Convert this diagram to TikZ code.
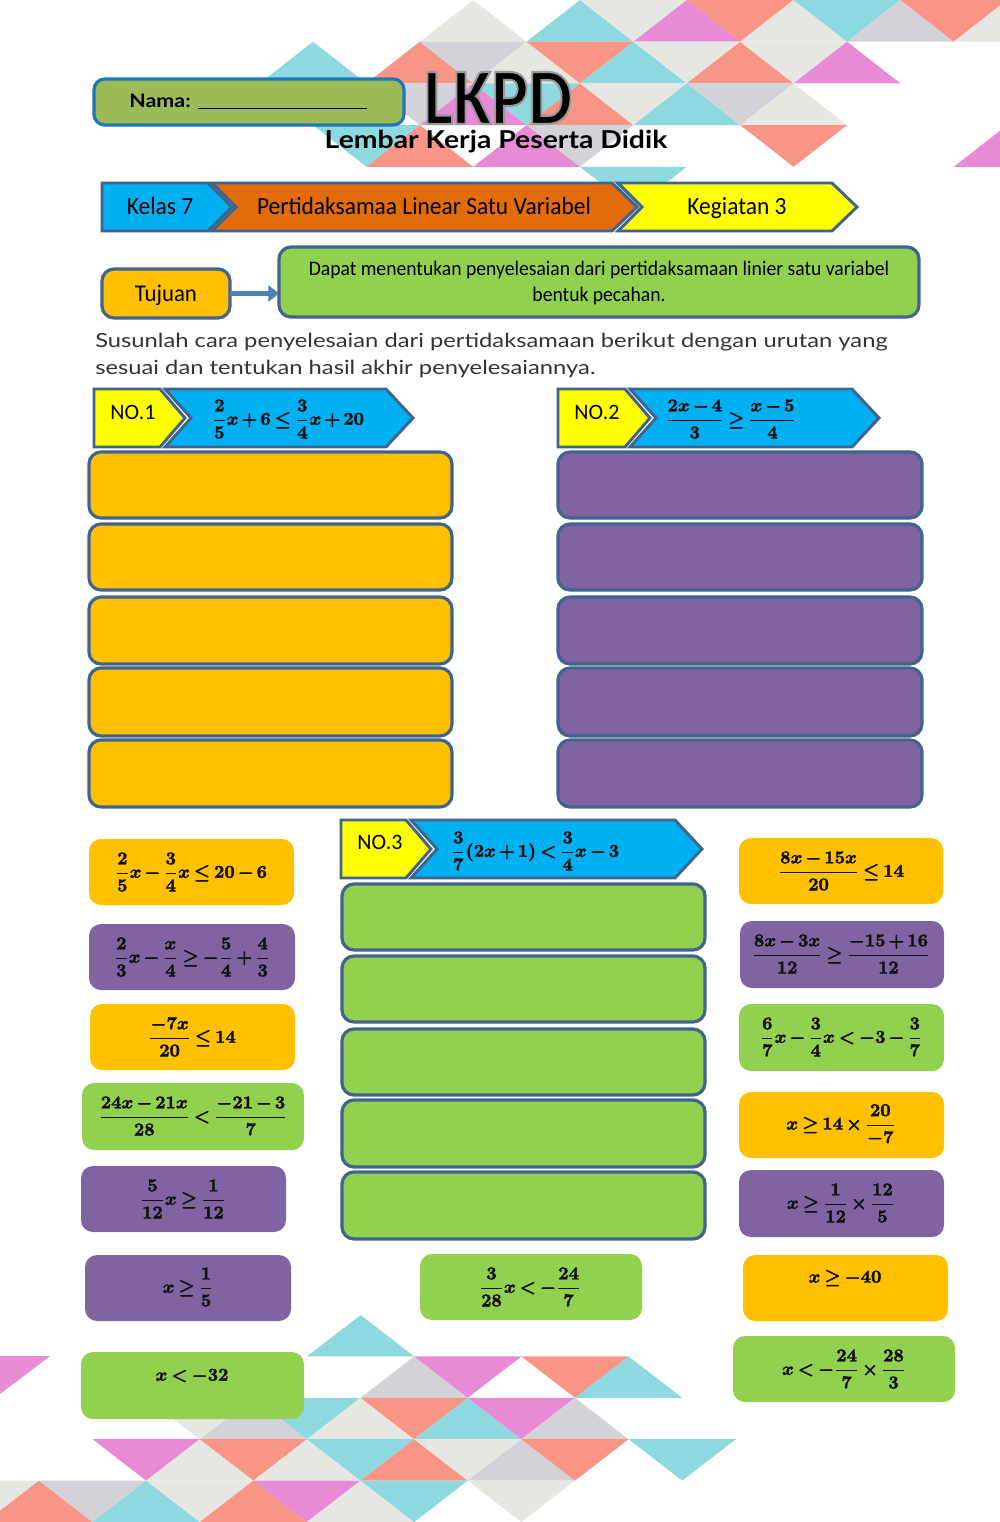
\documentclass[tikz,border=0pt]{standalone}
\usepackage{amsmath}
\usepackage{graphicx}
\usepackage[no-math]{fontspec}
\setmainfont{Carlito}
\newfontfamily\condfont[FakeStretch=0.95]{Carlito}
\newfontfamily\widefont[FakeStretch=1.22]{Lato}
\newfontfamily\headfont[FakeStretch=1.15]{Lato}
\usetikzlibrary{arrows.meta}
\definecolor{cyT}{HTML}{8ED8DF}
\definecolor{saT}{HTML}{F99586}
\definecolor{piT}{HTML}{E88AD6}
\definecolor{liT}{HTML}{E6E7E2}
\definecolor{grT}{HTML}{D2D2D8}
\definecolor{edgeB}{HTML}{41648F}
\definecolor{orangeF}{HTML}{FFC000}
\definecolor{purpleF}{HTML}{8064A2}
\definecolor{greenF}{HTML}{92D050}
\definecolor{blueF}{HTML}{00B0F0}
\definecolor{yellowF}{HTML}{FFFF00}
\definecolor{burntF}{HTML}{E36C0A}
\definecolor{olive}{HTML}{9BBB59}
\definecolor{namaB}{HTML}{1F78B4}
\definecolor{arrowB}{HTML}{4F81BD}
\definecolor{inkT}{HTML}{111111}
\tikzset{
  slot/.style={draw=edgeB,line width=2.4pt,rounded corners=9pt,inner sep=0pt,outer sep=0pt},
  card/.style={rounded corners=9pt,inner sep=0pt,outer sep=0pt},
  ban/.style={draw=edgeB,line width=2.2pt,line join=miter},
  eqn/.style={inner sep=0pt,text=inkT},
  lbl/.style={inner sep=0pt,text=black,align=center}
}
\newcommand{\boxat}[6]{%
  \pgfmathsetmacro\bw{(#5-#3)*0.75}%
  \pgfmathsetmacro\bh{(#6-#4)*0.75}%
  \node[#2,minimum width=\bw pt,minimum height=\bh pt] (#1) at ({(#3+#5)/2},{(#4+#6)/2}) {};}
\newcommand{\fm}[1]{\scalebox{1.35}{\medmuskip=2.5mu\thickmuskip=3.5mu\special{pdf:code 2 Tr 0.22 w}\boldmath$\displaystyle #1$\special{pdf:code 0 Tr 1 w}}}
\newcommand{\numbanner}[5]{% x0, x1, x2(shoulder), y1, y2
  \pgfmathsetmacro\ym{(#4+#5)/2}%
  \draw[ban,fill=blueF] (#2+3,#4) -- (#3,#4) -- (#3+27,\ym) -- (#3,#5) -- (#2+3,#5) -- (#2+29,\ym) -- cycle;
  \draw[ban,fill=yellowF] (#1,#4) -- (#2-2,#4) -- (#2+23,\ym) -- (#2-2,#5) -- (#1,#5) -- cycle;
}
\begin{document}
\begin{tikzpicture}[x=0.75pt,y=-0.75pt]
\useasboundingbox (0,0) rectangle (1000,1522);
\begin{scope}
\clip (0,0) rectangle (1000,1522);
% top triangles
\foreach \c/\i/\j/\d in {
 liT/3/0/1,cyT/5/0/1,liT/6/1/-1,piT/7/0/1,saT/8/1/-1,liT/9/0/1,cyT/10/1/-1,grT/11/0/1,saT/12/1/-1,liT/13/0/1,
 cyT/0/1/1,saT/2/1/1,grT/3/2/-1,liT/4/1/1,saT/5/2/-1,cyT/6/1/1,liT/7/2/-1,saT/8/1/1,liT/9/2/-1,piT/10/1/1,
 grT/2/3/-1,piT/3/2/1,cyT/4/3/-1,saT/5/2/1,liT/6/3/-1,cyT/7/2/1,grT/8/3/-1,liT/9/2/1,
 cyT/1/4/-1,saT/2/3/1,piT/4/3/1,grT/5/4/-1,saT/9/4/-1,piT/13/3/1,cyT/6/5/-1}{
  \fill[\c] ({313+53.4*\i},{41.7*\j}) -- ({313+53.4*(\i-1)},{41.7*(\j+\d)}) -- ({313+53.4*(\i+1)},{41.7*(\j+\d)}) -- cycle;
}
% bottom triangles
\foreach \c/\i/\j/\d in {
 cyT/6/0/1,grT/7/1/1,piT/8/2/-1,saT/10/2/-1,cyT/11/1/1,
 cyT/5/3/-1,liT/6/2/1,saT/7/3/-1,cyT/8/2/1,piT/9/3/-1,grT/10/2/1,grT/4/2/1,liT/3/3/-1,
 piT/2/4/-1,liT/3/3/1,saT/4/4/-1,liT/5/3/1,cyT/6/4/-1,saT/7/3/1,liT/8/4/-1,grT/9/3/1,saT/10/4/-1,cyT/12/4/-1,
 liT/-1/5/-1,saT/0/4/1,grT/1/5/-1,cyT/2/4/1,liT/3/5/-1,saT/4/4/1,piT/5/5/-1,liT/6/4/1,cyT/7/5/-1,liT/9/5/-1}{
  \fill[\c] ({39+53.6*\i},{1315+41.4*\j}) -- ({39+53.6*(\i-1)},{1315+41.4*(\j+\d)}) -- ({39+53.6*(\i+1)},{1315+41.4*(\j+\d)}) -- cycle;
}
\fill[piT] (-58,1356) -- (50,1356) -- (-4,1397) -- cycle;
\end{scope}

% name box and title
\boxat{nama}{draw=namaB,line width=2.4pt,rounded corners=8pt,fill=olive,inner sep=0pt}{94}{79}{404}{125}
\node[lbl,anchor=base west,font=\headfont\bfseries\fontsize{14}{16}\selectfont] (namaT) at (129,107) {Nama: \rule[-1.5pt]{127pt}{1.1pt}};
\node[lbl,font=\bfseries\fontsize{60}{60}\selectfont] (lkpd) at (498,98) {\special{pdf:code 2 Tr 0.6 G 1.6 w}\scalebox{0.87}[1]{LKPD}\special{pdf:code 0 Tr 0 G 1 w}};
\node[lbl,font=\headfont\bfseries\fontsize{18.5}{20}\selectfont] (lembar) at (496,142) {Lembar Kerja Peserta Didik};

% top banner
\draw[ban,fill=blueF] (102,183) -- (208,183) -- (232,207) -- (208,231) -- (102,231) -- cycle;
\draw[ban,fill=burntF] (212,183) -- (612,183) -- (637,207) -- (612,231) -- (212,231) -- (236,207) -- cycle;
\draw[ban,fill=yellowF] (618,183) -- (832,183) -- (857,207) -- (832,231) -- (618,231) -- (642,207) -- cycle;
\node[lbl,anchor=base,font=\condfont\fontsize{18.5}{20}\selectfont] (kelas) at (160,214) {Kelas 7};
\node[lbl,anchor=base,font=\condfont\fontsize{18.5}{20}\selectfont] (judul) at (424,214) {Pertidaksamaa Linear Satu Variabel};
\node[lbl,anchor=base,font=\condfont\fontsize{18.5}{20}\selectfont] (keg) at (737,214) {Kegiatan 3};

% tujuan
\boxat{tujuan}{slot,fill=orangeF}{102}{269}{230}{318}
\node[lbl,anchor=base,font=\condfont\fontsize{18}{20}\selectfont] (tujuanT) at (166,301) {Tujuan};
\boxat{goal}{slot,fill=greenF}{279}{247}{919}{317}
\node[lbl,font=\condfont\fontsize{15.5}{18.8}\selectfont] (goalT) at (599,283) {Dapat menentukan penyelesaian dari pertidaksamaan linier satu variabel\\bentuk pecahan.};
\draw[arrowB,line width=3.4pt,-{Triangle[length=8pt,width=12pt]}] (tujuan.east) -- (tujuan.east -| goal.west);

% instruction
\node[lbl,anchor=north west,align=left,font=\widefont\fontsize{14.6}{20.2}\selectfont,text=black!80] (inst) at (95,333) {Susunlah cara penyelesaian dari pertidaksamaan berikut dengan urutan yang\\sesuai dan tentukan hasil akhir penyelesaiannya.};

% number banners
\numbanner{94}{162}{386}{389}{447}
\numbanner{558}{627}{852}{389}{447}
\numbanner{341}{408}{675}{820}{878}
\node[lbl,font=\fontsize{16.5}{20}\selectfont] (no1) at (133,412) {NO.1};
\node[lbl,font=\fontsize{16.5}{20}\selectfont] (no2) at (597,412) {NO.2};
\node[lbl,font=\fontsize{16.5}{20}\selectfont] (no3) at (380,842) {NO.3};
\node[eqn] (e1) at (288,419) {\fm{\frac{2}{5}x+6\leq\frac{3}{4}x+20}};
\node[eqn] (e2) at (731,419) {\fm{\frac{2x-4}{3}\geq\frac{x-5}{4}}};
\node[eqn] (e3) at (535,851) {\fm{\frac{3}{7}(2x+1)<\frac{3}{4}x-3}};

% answer slots
\foreach \n/\a/\b in {1/452/518,2/524/590,3/597/664,4/668/736,5/740/807}{
  \boxat{oS\n}{slot,fill=orangeF}{89}{\a}{452}{\b}
  \boxat{pS\n}{slot,fill=purpleF}{558}{\a}{922}{\b}
}
\foreach \n/\a/\b in {1/884/950,2/956/1022,3/1029/1095,4/1100/1167,5/1172/1239}{
  \boxat{gS\n}{slot,fill=greenF}{342}{\a}{705}{\b}
}

% cards
\boxat{l1}{card,fill=orangeF}{89}{839}{294}{905}
\boxat{l2}{card,fill=purpleF}{89}{924}{295}{990}
\boxat{l3}{card,fill=orangeF}{90}{1004}{295}{1070}
\boxat{l4}{card,fill=greenF}{82}{1083}{304}{1150}
\boxat{l5}{card,fill=purpleF}{81}{1166}{286}{1232}
\boxat{l6}{card,fill=purpleF}{85}{1255}{291}{1321}
\boxat{l7}{card,fill=greenF}{81}{1352}{304}{1419}
\boxat{m1}{card,fill=greenF}{420}{1254}{642}{1320}
\boxat{r1}{card,fill=orangeF}{739}{838}{943}{904}
\boxat{r2}{card,fill=purpleF}{740}{921}{944}{988}
\boxat{r3}{card,fill=greenF}{739}{1004}{944}{1071}
\boxat{r4}{card,fill=orangeF}{739}{1092}{944}{1158}
\boxat{r5}{card,fill=purpleF}{739}{1170}{944}{1237}
\boxat{r6}{card,fill=orangeF}{743}{1255}{948}{1321}
\boxat{r7}{card,fill=greenF}{733}{1336}{955}{1402}

\node[eqn] (l1T) at (191,872) {\fm{\frac{2}{5}x-\frac{3}{4}x\leq 20-6}};
\node[eqn] (l2T) at (192,957) {\fm{\frac{2}{3}x-\frac{x}{4}\geq-\frac{5}{4}+\frac{4}{3}}};
\node[eqn] (l3T) at (192,1037) {\fm{\frac{-7x}{20}\leq 14}};
\node[eqn] (l4T) at (193,1116) {\fm{\frac{24x-21x}{28}<\frac{-21-3}{7}}};
\node[eqn] (l5T) at (183,1199) {\fm{\frac{5}{12}x\geq\frac{1}{12}}};
\node[eqn] (l6T) at (188,1287) {\fm{x\geq\frac{1}{5}}};
\node[eqn] (l7T) at (192,1376) {\fm{x<-32}};
\node[eqn] (m1T) at (530,1287) {\fm{\frac{3}{28}x<-\frac{24}{7}}};
\node[eqn] (r1T) at (841,871) {\fm{\frac{8x-15x}{20}\leq 14}};
\node[eqn] (r2T) at (841,954) {\fm{\frac{8x-3x}{12}\geq\frac{-15+16}{12}}};
\node[eqn] (r3T) at (841,1037) {\fm{\frac{6}{7}x-\frac{3}{4}x<-3-\frac{3}{7}}};
\node[eqn] (r4T) at (841,1125) {\fm{x\geq 14\times\frac{20}{-7}}};
\node[eqn] (r5T) at (841,1203) {\fm{x\geq\frac{1}{12}\times\frac{12}{5}}};
\node[eqn] (r6T) at (845,1278) {\fm{x\geq -40}};
\node[eqn] (r7T) at (844,1369) {\fm{x<-\frac{24}{7}\times\frac{28}{3}}};
\end{tikzpicture}
\end{document}
